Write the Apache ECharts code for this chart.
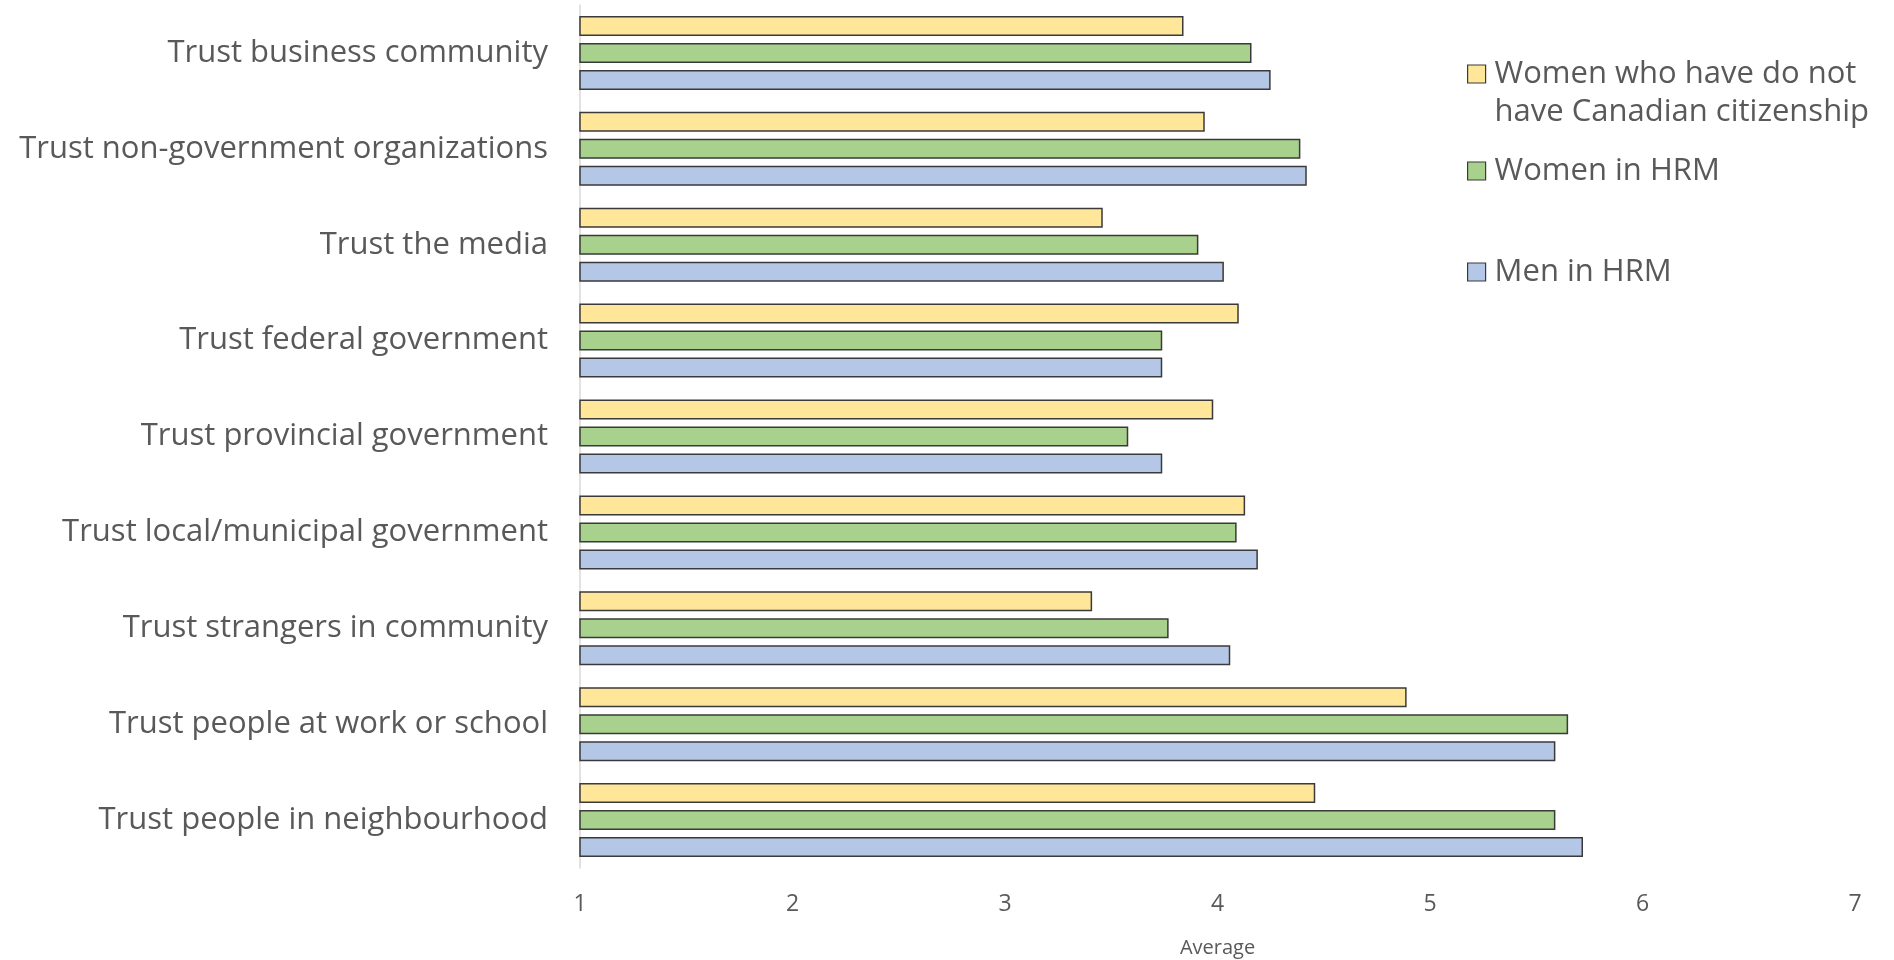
<!DOCTYPE html>
<html><head><meta charset="utf-8">
<script src="https://cdn.jsdelivr.net/npm/echarts@6/dist/echarts.min.js"></script>
<style>html,body{margin:0;padding:0;background:#fff}#c{width:1894px;height:960px}</style>
</head><body><div id="c"></div>
<script>
const categories = ['Trust business community','Trust non-government organizations','Trust the media','Trust federal government','Trust provincial government','Trust local/municipal government','Trust strangers in community','Trust people at work or school','Trust people in neighbourhood'];
const seriesNames = ['Women who have do not\nhave Canadian citizenship','Women in HRM','Men in HRM'];
const womenNoCitizenship = [3.84,3.94,3.46,4.10,3.98,4.13,3.41,4.89,4.46];
const womenHRM = [4.16,4.39,3.91,3.74,3.58,4.09,3.77,5.65,5.59];
const menHRM = [4.25,4.42,4.03,3.74,3.74,4.19,4.06,5.59,5.72];
const xTicks = [1,2,3,4,5,6,7];
const colors = ['#FFE699','#A9D18E','#B4C7E7'];

const font = 'Open Sans';
const txt = '#595959';
const chart = echarts.init(document.getElementById('c'));
const mk = (name, data, color) => ({
  name, type:'bar', data, barWidth:20, barGap:'35%',
  itemStyle:{color, borderColor:'#3a3a3a', borderWidth:1.5}
});
const legendBase = (name, top, extra) => Object.assign({
  data:[name], left:1462, top, itemWidth:18, itemHeight:18, itemGap:0,
  icon:'rect',
  itemStyle:{borderColor:'#3a3a3a', borderWidth:1.2},
  textStyle:{fontFamily:font, fontSize:31, color:txt, lineHeight:38, padding:[0,0,0,4]}
}, extra||{});
chart.setOption({
  animation:false,
  grid:{left:580, right:39, top:5, bottom:92, containLabel:false, outerBoundsMode:'none'},
  xAxis:{type:'value', min:xTicks[0], max:xTicks[xTicks.length-1], interval:1,
    axisLine:{show:false}, axisTick:{show:false}, splitLine:{show:false},
    axisLabel:{fontFamily:font, fontSize:23, color:txt, margin:25},
    name:'Average', nameLocation:'middle', nameGap:70,
    nameTextStyle:{fontFamily:font, fontSize:20, color:txt}},
  yAxis:{type:'category', data:categories, inverse:true,
    axisLine:{show:true, lineStyle:{color:'#d9d9d9', width:1.5}}, axisTick:{show:false},
    axisLabel:{fontFamily:font, fontSize:31, color:txt, margin:32}},
  legend:[
    legendBase(seriesNames[0], 12, {formatter: n => '\n' + n}),
    legendBase(seriesNames[1], 147),
    legendBase(seriesNames[2], 248)
  ],
  series:[mk(seriesNames[0], womenNoCitizenship, colors[0]), mk(seriesNames[1], womenHRM, colors[1]), mk(seriesNames[2], menHRM, colors[2])]
});
</script></body></html>
